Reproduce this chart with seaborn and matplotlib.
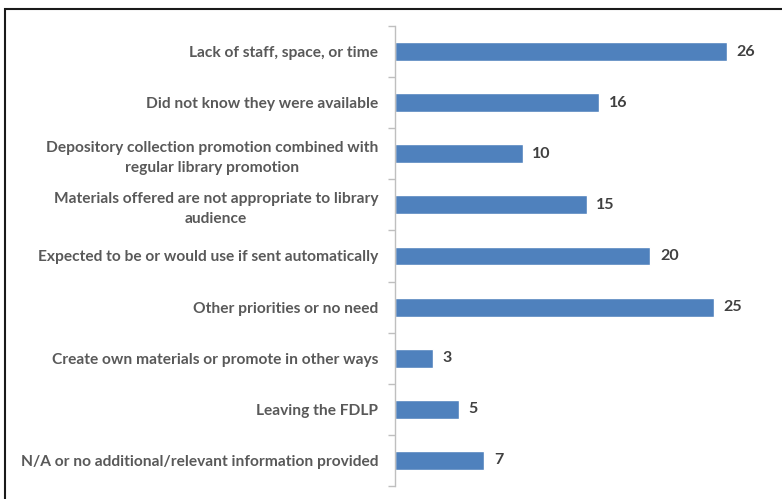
import numpy as np
import matplotlib
matplotlib.use("Agg")
import matplotlib.pyplot as plt
import pandas as pd
import seaborn as sns
from matplotlib.patches import Rectangle

reasons = [
    "Lack of staff, space, or time",
    "Did not know they were available",
    "Depository collection promotion combined with\nregular library promotion",
    "Materials offered are not appropriate to library\naudience",
    "Expected to be or would use if sent automatically",
    "Other priorities or no need",
    "Create own materials or promote in other ways",
    "Leaving the FDLP",
    "N/A or no additional/relevant information provided",
]
counts = [26, 16, 10, 15, 20, 25, 3, 5, 7]

df = pd.DataFrame({"reason": reasons, "count": counts})

sns.set_style("white")
plt.rcParams["font.family"] = ["Lato", "DejaVu Sans"]

fig = plt.figure(figsize=(7.82, 4.99), dpi=100)
ax = fig.add_axes([395 / 782, 1 - 486 / 499, 383 / 782, 460 / 499])

sns.barplot(data=df, x="count", y="reason", orient="h", color="#4F81BD",
            width=0.37, saturation=1, ax=ax)

ax.set_xlim(0, 30)
ax.set_ylim(len(reasons) - 0.5, -0.5)
ax.set_xlabel("")
ax.set_ylabel("")
ax.set_xticks([])

# category labels
ax.set_yticks(range(len(reasons)))
ax.set_yticklabels(reasons, fontsize=11.2, fontweight="bold", color="#595959",
                   multialignment="center", linespacing=1.5)
ax.tick_params(axis="y", which="major", left=True, length=0, pad=12)
ax.set_yticks(np.arange(-0.5, len(reasons)), minor=True)
ax.tick_params(axis="y", which="minor", left=True, length=5,
               color="#BFBFBF", width=1)

for s in ["top", "right", "bottom"]:
    ax.spines[s].set_visible(False)
ax.spines["left"].set_color("#BFBFBF")
ax.spines["left"].set_linewidth(1)

# value labels
for i, v in enumerate(counts):
    ax.text(v + 0.75, i, str(v), va="center", ha="left", fontsize=11.5,
            fontweight="bold", color="#404040")

# outer chart frame
fig.patches.append(Rectangle((5 / 782, -0.1), 1.1, 1.1 - 9 / 499,
                             transform=fig.transFigure, fill=False,
                             edgecolor="#1a1a1a", linewidth=1.5))

fig.savefig("out.png", dpi=100)
